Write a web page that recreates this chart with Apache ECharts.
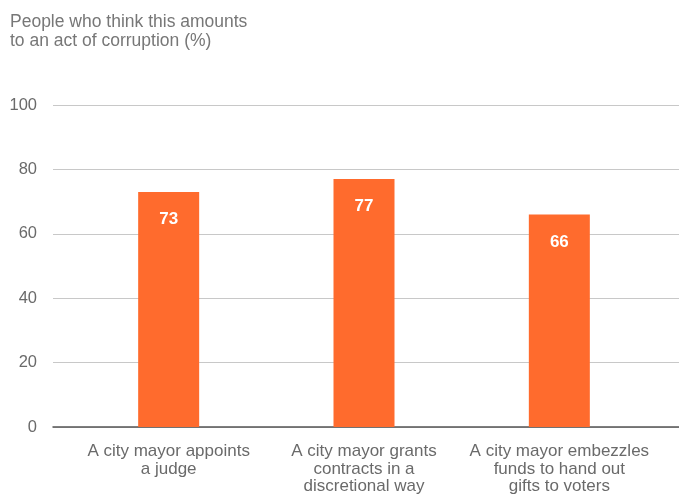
<!DOCTYPE html>
<html>
<head>
<meta charset="utf-8">
<script src="https://cdn.jsdelivr.net/npm/echarts@6/dist/echarts.min.js"></script>
<style>
  html, body { margin: 0; padding: 0; background: #fff; }
  #chart { width: 679px; height: 494px; }
</style>
</head>
<body>
<div id="chart"></div>
<script>
const titleText = 'People who think this amounts\nto an act of corruption (%)';
const categories = [
  'A city mayor appoints\na judge',
  'A city mayor grants\ncontracts in a\ndiscretional way',
  'A city mayor embezzles\nfunds to hand out\ngifts to voters'
];
const shares = [73, 77, 66];
const yTicks = { min: 0, max: 100, step: 20 };

const FONT = '"Liberation Sans", Arial, Helvetica, sans-serif';
const chart = echarts.init(document.getElementById('chart'), null, { renderer: 'canvas' });

chart.setOption({
  animation: false,
  backgroundColor: '#ffffff',
  title: {
    text: titleText,
    left: 5,
    top: 8,
    textStyle: { fontFamily: FONT, fontSize: 17.5, fontWeight: 'normal', color: '#777777', lineHeight: 18.5 }
  },
  grid: [
    // full-width grid carrying the y labels, gridlines and baseline
    { left: 53, right: 0, top: 105, bottom: 67, outerBoundsMode: 'none', containLabel: false },
    // inner grid holding the category bands and bars
    { left: 71, right: 22, top: 105, bottom: 67, outerBoundsMode: 'none', containLabel: false }
  ],
  xAxis: [
    {
      type: 'value', gridIndex: 0, min: 0, max: 1,
      axisLabel: { show: false }, axisTick: { show: false }, splitLine: { show: false },
      axisLine: { show: true, lineStyle: { color: '#555555', width: 1.5 } }
    },
    {
      type: 'category', gridIndex: 1, data: categories,
      axisLine: { show: false }, axisTick: { show: false },
      axisLabel: {
        interval: 0, margin: 16, fontFamily: FONT, fontSize: 17,
        color: '#6a6a6a', lineHeight: 17.5, align: 'center'
      }
    }
  ],
  yAxis: [
    {
      type: 'value', gridIndex: 0, min: yTicks.min, max: yTicks.max, interval: yTicks.step,
      axisLine: { show: false }, axisTick: { show: false },
      axisLabel: { margin: 16, fontFamily: FONT, fontSize: 16.5, color: '#6a6a6a' },
      splitLine: { lineStyle: { color: '#c8c8c8', width: 1 } }
    },
    {
      type: 'value', gridIndex: 1, min: yTicks.min, max: yTicks.max, interval: yTicks.step,
      show: false
    }
  ],
  series: [{
    type: 'bar',
    xAxisIndex: 1,
    yAxisIndex: 1,
    data: shares,
    barWidth: 61,
    itemStyle: { color: '#ff6b2d' },
    label: {
      show: true,
      position: 'insideTop',
      distance: 19,
      fontFamily: FONT,
      fontSize: 17,
      fontWeight: 'bold',
      color: '#ffffff'
    }
  }]
});
</script>
</body>
</html>
